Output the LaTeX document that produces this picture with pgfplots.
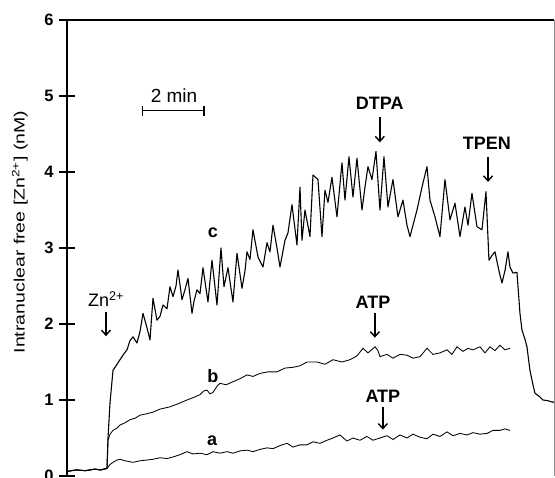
\documentclass[border=0pt]{standalone}
\usepackage{fontspec}
\setmainfont{Liberation Sans}
\usepackage{pgfplots}
\pgfplotsset{compat=1.18}
\usetikzlibrary{arrows.meta}
\tikzset{
  annot/.style={font=\fontsize{18}{20}\selectfont\bfseries},
  arr/.style={line width=1.4pt, -{Straight Barb[length=5pt,width=9pt]}},
}
\begin{document}
\begin{tikzpicture}
\begin{axis}[
  name=ax,
  scale only axis,
  width=487pt, height=456pt,
  xmin=0, xmax=15.88, ymin=0, ymax=6,
  axis line style={draw=none},
  xtick=\empty,
  ytick={0,1,2,3,4,5,6},
  ytick pos=left,
  tick align=center,
  major tick length=16pt,
  tick style={line width=1.2pt, black},
  yticklabel style={font=\fontsize{16.5}{18}\selectfont\bfseries, xshift=-2pt},
  /pgf/number format/assume math mode=true,
]
% curve a
\addplot[black, line width=0.85pt] table {
0 0.06
0.3 0.08
0.6 0.07
0.9 0.09
1.1 0.08
1.304 0.10
1.402 0.15
1.500 0.18
1.630 0.21
1.728 0.22
1.891 0.20
2.152 0.18
2.380 0.20
2.608 0.21
2.804 0.22
3.032 0.24
3.261 0.23
3.456 0.25
3.684 0.28
3.913 0.32
4.108 0.29
4.337 0.30
4.565 0.28
4.760 0.32
4.989 0.30
5.217 0.32
5.412 0.30
5.641 0.33
5.869 0.34
6.065 0.32
6.293 0.35
6.521 0.37
6.717 0.36
6.945 0.40
7.173 0.43
7.369 0.38
7.597 0.41
7.825 0.41
8.021 0.45
8.249 0.43
8.477 0.47
8.673 0.50
8.901 0.54
9.129 0.46
9.325 0.50
9.553 0.47
9.781 0.52
9.977 0.47
10.205 0.50
10.434 0.53
10.629 0.48
10.857 0.54
11.086 0.50
11.281 0.55
11.510 0.51
11.738 0.49
11.934 0.55
12.162 0.52
12.390 0.58
12.586 0.53
12.814 0.56
13.042 0.54
13.238 0.57
13.466 0.55
13.694 0.56
13.890 0.60
14.118 0.60
14.281 0.62
14.444 0.60
};
% curve b
\addplot[black, line width=0.85pt] table {
0 0.06
0.3 0.08
0.6 0.07
0.9 0.09
1.1 0.08
1.304 0.10
1.337 0.47
1.402 0.55
1.500 0.60
1.630 0.63
1.728 0.67
1.891 0.70
2.054 0.74
2.217 0.76
2.380 0.80
2.608 0.82
2.804 0.84
3.032 0.88
3.358 0.91
3.619 0.95
3.913 1.00
4.108 1.03
4.337 1.07
4.467 1.12
4.565 1.13
4.663 1.08
4.760 1.10
4.891 1.18
4.989 1.22
5.184 1.20
5.412 1.24
5.641 1.28
5.869 1.33
6.065 1.31
6.293 1.35
6.554 1.37
6.847 1.37
7.108 1.42
7.369 1.43
7.597 1.45
7.825 1.50
8.151 1.50
8.412 1.47
8.673 1.53
8.966 1.50
9.227 1.53
9.455 1.58
9.651 1.68
9.814 1.62
10.042 1.70
10.140 1.65
10.205 1.57
10.434 1.60
10.629 1.55
10.857 1.60
11.086 1.59
11.281 1.55
11.510 1.57
11.738 1.68
11.934 1.60
12.162 1.62
12.390 1.66
12.553 1.60
12.716 1.70
12.912 1.64
13.075 1.68
13.238 1.66
13.466 1.70
13.629 1.62
13.792 1.70
13.955 1.65
14.118 1.72
14.281 1.66
14.444 1.68
};
% curve c
\addplot[black, line width=1.1pt, line join=round] table {
0 0.06
0.3 0.08
0.6 0.07
0.9 0.09
1.1 0.08
1.304 0.10
1.337 0.50
1.402 0.96
1.500 1.39
1.663 1.49
1.826 1.59
1.956 1.66
2.054 1.78
2.152 1.83
2.282 1.75
2.380 1.90
2.478 2.14
2.608 1.95
2.706 1.79
2.804 2.34
2.934 2.05
3.032 2.10
3.130 2.25
3.261 2.20
3.358 2.49
3.456 2.36
3.554 2.50
3.619 2.71
3.750 2.32
3.847 2.45
3.945 2.60
4.076 2.14
4.141 2.30
4.239 2.45
4.337 2.40
4.434 2.74
4.597 2.29
4.728 2.84
4.891 2.25
5.021 3.00
5.119 2.49
5.249 2.74
5.412 2.29
5.543 2.93
5.706 2.47
5.804 2.70
5.869 2.95
5.967 2.85
6.065 3.24
6.228 2.88
6.391 2.75
6.521 3.07
6.619 2.95
6.717 3.30
6.847 3.00
6.945 2.75
7.108 3.10
7.206 3.20
7.336 3.57
7.499 3.04
7.597 3.80
7.662 3.10
7.760 3.50
7.923 3.15
8.021 3.96
8.184 3.90
8.314 3.15
8.412 3.76
8.510 3.60
8.640 3.93
8.803 3.41
8.966 4.12
9.064 3.63
9.195 4.20
9.325 3.67
9.455 4.18
9.619 3.50
9.716 3.80
9.814 4.07
9.945 3.90
10.075 4.27
10.205 3.50
10.336 4.20
10.466 3.54
10.629 3.90
10.792 3.41
10.955 3.63
11.086 3.30
11.184 3.15
11.412 3.50
11.575 3.80
11.738 4.07
11.836 3.63
11.999 3.41
12.162 3.15
12.325 3.90
12.488 3.37
12.651 3.59
12.814 3.15
12.977 3.54
13.075 3.30
13.205 3.72
13.368 3.28
13.531 3.24
13.662 3.74
13.759 2.84
13.857 2.90
13.955 2.95
14.085 2.70
14.183 2.54
14.281 2.70
14.379 2.95
14.444 2.75
14.542 2.67
14.672 2.68
14.770 2.14
14.835 1.92
14.933 1.80
14.998 1.70
15.096 1.39
15.194 1.20
15.259 1.09
15.390 1.05
15.520 1.00
15.683 0.99
15.846 0.97
15.911 0.98
};
% scale bar
\draw[line width=1.2pt] (axis cs:2.47,4.807) -- (axis cs:4.47,4.807);
\draw[line width=1.2pt] (axis cs:2.47,4.74) -- (axis cs:2.47,4.87);
\draw[line width=1.2pt] (axis cs:4.47,4.74) -- (axis cs:4.47,4.87);
\node[font=\fontsize{19}{21}\selectfont] at (axis cs:3.49,5.0) {2 min};
% labels
\node[annot] at (axis cs:4.76,3.20) {c};
\node[annot] at (axis cs:4.76,1.32) {b};
\node[annot] at (axis cs:4.73,0.47) {a};
\node[font=\fontsize{18}{20}\selectfont] at (axis cs:1.27,2.33) {Zn\textsuperscript{2+}};
\draw[arr] (axis cs:1.27,2.16) -- (axis cs:1.27,1.84);
\node[annot] at (axis cs:10.2,4.91) {DTPA};
\draw[arr] (axis cs:10.2,4.72) -- (axis cs:10.2,4.39);
\node[annot] at (axis cs:13.69,4.38) {TPEN};
\draw[arr] (axis cs:13.73,4.20) -- (axis cs:13.73,3.87);
\node[annot] at (axis cs:9.98,2.28) {ATP};
\draw[arr] (axis cs:10.04,2.14) -- (axis cs:10.04,1.82);
\node[annot] at (axis cs:10.30,1.05) {ATP};
\draw[arr] (axis cs:10.30,0.91) -- (axis cs:10.30,0.61);
\end{axis}
\draw[line width=1.5pt] (ax.south west) -- (ax.north west) -- (ax.north east);
\draw[line width=0.8pt, black!45] (ax.north east) -- (ax.south east);
\node[rotate=90, font=\fontsize{15}{17}\selectfont] at ([xshift=-47pt,yshift=16pt]ax.west) {\scalebox{1.3}[1]{Intranuclear free [Zn\textsuperscript{2+}] (nM)}};
\pgfresetboundingbox
\useasboundingbox ([xshift=-67pt,yshift=-2pt]ax.south west) rectangle ([xshift=1pt,yshift=20pt]ax.north east);
\end{tikzpicture}
\end{document}
